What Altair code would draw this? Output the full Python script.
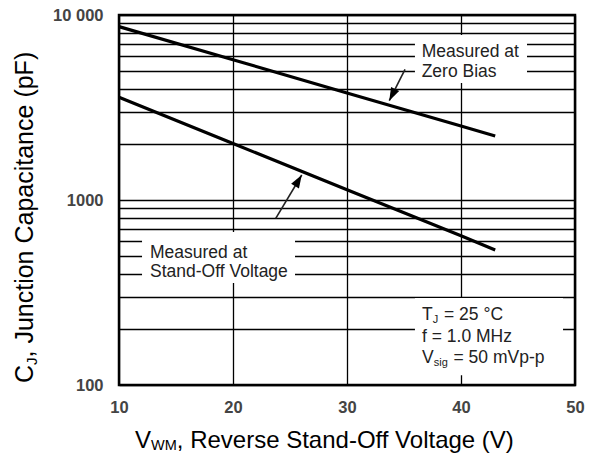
import altair as alt
import pandas as pd

# ---------------- data ----------------
voltage = [10, 20, 30, 40, 43]
cap_zero_bias = [8650, 5730, 3790, 2510, 2220]
cap_standoff = [3590, 2020, 1135, 640, 537]

x_ticks = [10, 20, 30, 40, 50]
y_grid = [100, 200, 300, 400, 500, 600, 700, 800, 900,
          1000, 2000, 3000, 4000, 5000, 6000, 7000, 8000, 9000, 10000]

FONT = "Liberation Sans"

lines_df = pd.DataFrame(
    {"v": voltage * 2,
     "c": cap_zero_bias + cap_standoff,
     "series": ["zero"] * len(voltage) + ["standoff"] * len(voltage)}
)

# white label boxes (data units)
boxes_df = pd.DataFrame({
    "v": [35.96, 12.02, 35.96],
    "v2": [45.79, 25.44, 48.95],
    "c": [7800, 671, 295],
    "c2": [4290, 356, 113],
})

# arrows: tail -> tip
arrows_df = pd.DataFrame({
    "v": [35.09, 33.71, 23.75, 26.03],
    "c": [5088, 3443, 796, 1365],
    "arrow": ["a", "a", "b", "b"],
})

x_scale = alt.Scale(domain=[10, 50], nice=False, zero=False)
y_scale = alt.Scale(type="log", domain=[100, 10000], nice=False)

x_axis = alt.Axis(values=x_ticks, grid=True, gridColor="black", gridWidth=1.3,
                  gridOpacity=1, ticks=False, domain=False, title=None,
                  labelFont=FONT, labelFontSize=16.5, labelFontWeight="bold",
                  labelColor="#444", labelPadding=14, labelFlush=False)
y_axis = alt.Axis(values=y_grid, grid=True, gridColor="black", gridWidth=1.3,
                  gridOpacity=1, ticks=False, domain=False, title=None,
                  labelFont=FONT, labelFontSize=16.5, labelFontWeight="bold",
                  labelColor="#444", labelPadding=16, labelOverlap=False,
                  labelFlush=False,
                  labelExpr="datum.value == 10000 ? '10 000' : (datum.value == 1000 ? '1000' : (datum.value == 100 ? '100' : ''))")

X = alt.X("v:Q", scale=x_scale, axis=x_axis)
Y = alt.Y("c:Q", scale=y_scale, axis=y_axis)

base_lines = alt.Chart(lines_df).mark_line(color="black", strokeWidth=3.2, strokeCap="butt").encode(
    x=X, y=Y, detail="series:N")

boxes = alt.Chart(boxes_df).mark_rect(fill="white").encode(
    x=X, x2="v2:Q", y=Y, y2="c2:Q")

arrow_lines = alt.Chart(arrows_df).mark_line(color="#222", strokeWidth=1.6).encode(
    x=X, y=Y, detail="arrow:N")

HEAD = "M0,0 L0.7,2 L-0.7,2 Z"
head_a = alt.Chart(pd.DataFrame({"v": [33.71], "c": [3443]})).mark_point(
    shape=HEAD, filled=True, color="black", size=169, opacity=1, angle=206.6).encode(x=X, y=Y)
head_b = alt.Chart(pd.DataFrame({"v": [26.03], "c": [1365]})).mark_point(
    shape=HEAD, filled=True, color="black", size=169, opacity=1, angle=31).encode(x=X, y=Y)


def label(text, v, c, size=17.5, dx=0, dy=0):
    return alt.Chart(pd.DataFrame({"v": [v], "c": [c], "t": [text]})).mark_text(
        font=FONT, fontSize=size, align="left", baseline="alphabetic",
        color="#222", dx=dx, dy=dy).encode(x=X, y=Y, text="t:N")


annotations = [
    label("Measured at", 36.55, 5952),
    label("Zero Bias", 36.55, 4639),
    label("Measured at", 12.72, 486),
    label("Stand-Off Voltage", 12.72, 385),
    label("T", 36.58, 224.6),
    label("J", 36.58, 224.6, size=11, dx=10.8, dy=3),
    label("= 25 °C", 36.58, 224.6, dx=22),
    label("f = 1.0 MHz", 36.58, 171.4),
    label("V", 36.58, 131.5),
    label("sig", 36.58, 131.5, size=11, dx=11.8, dy=3),
    label("= 50 mVp-p", 36.58, 131.5, dx=31.5),
]


def title_piece(text, x, y, size, angle=0):
    return alt.Chart(pd.DataFrame({"t": [text]})).mark_text(
        font=FONT, fontSize=size, align="left", baseline="alphabetic",
        color="black", angle=angle).encode(
        x=alt.value(x), y=alt.value(y), text="t:N")


titles = [
    # x axis title
    title_piece("V", 16, 433.3, 24),
    title_piece("WM", 32, 435.3, 14.5),
    title_piece(", Reverse Stand-Off Voltage (V)", 57.8, 433.3, 24),
    # y axis title (rotated)
    title_piece("C", -86, 368, 25, angle=270),
    title_piece("J", -82.5, 350, 15, angle=270),
    title_piece(", Junction Capacitance (pF)", -86, 342.5, 25, angle=270),
]

chart = alt.layer(
    boxes, base_lines, arrow_lines, head_a, head_b, *annotations, *titles
).properties(
    width=456, height=370,
    autosize=alt.AutoSizeParams(type="none"),
    padding={"left": 119, "top": 15, "right": 19, "bottom": 69},
    background="white",
).configure_view(stroke="black", strokeWidth=2.5).configure_axis(
    labelFont=FONT, labelFontSize=16.5, labelFontWeight="bold", labelColor="#444"
)

chart.save("out.html", embed_options={"renderer": "svg", "actions": False})
